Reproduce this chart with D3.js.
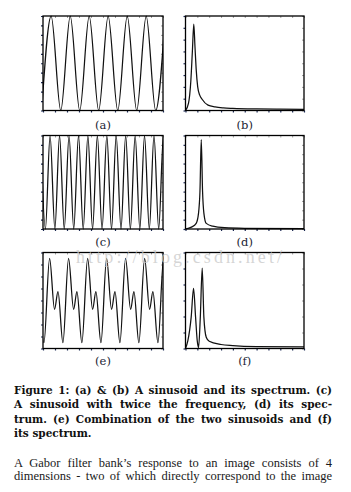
<!DOCTYPE html>
<html>
<head>
<meta charset="utf-8">
<script src="https://cdn.jsdelivr.net/npm/d3@7"></script>
<style>
  html, body { margin: 0; padding: 0; background: #fff; }
  svg { display: block; }
</style>
</head>
<body>
<div id="chart"></div>
<script>
// extrema (x in tick units 0..10)
const sineA = [[-0.11,-1],[0.68,1],[1.48,-1],[2.27,1],[3.06,-1],[3.85,1],[4.64,-1],[5.43,1],
  [6.23,-1],[7.02,1],[7.81,-1],[8.60,1],[9.39,-1],[10.18,1]]

const sineC = [[-0.19,1],[0.20,-1],[0.59,1],[0.99,-1],[1.38,1],[1.77,-1],[2.17,1],[2.56,-1],[2.96,1],
  [3.35,-1],[3.74,1],[4.13,-1],[4.53,1],[4.92,-1],[5.32,1],[5.71,-1],[6.10,1],[6.50,-1],[6.89,1],
  [7.28,-1],[7.68,1],[8.07,-1],[8.46,1],[8.86,-1],[9.25,1],[9.64,-1],[10.04,1],[10.43,-1]]

const sineE = [[-0.34,0.37],[0.08,-1.76],[0.55,1.76],[0.96,-0.37],[1.25,0.37],[1.66,-1.76],
  [2.13,1.76],[2.55,-0.37],[2.83,0.37],[3.24,-1.76],[3.72,1.76],[4.13,-0.37],[4.41,0.37],[4.83,-1.76],
  [5.30,1.76],[5.71,-0.37],[6.00,0.37],[6.41,-1.76],[6.88,1.76],[7.30,-0.37],[7.58,0.37],[7.99,-1.76],
  [8.47,1.76],[8.88,-0.37],[9.16,0.37],[9.58,-1.76],[10.05,1.76],[10.46,-0.37]]

const specB = [[0,0],[0.25,0.6],[0.45,2.5],[0.58,5.0],[0.7,7.32],[0.8,5.4],[0.9,3.5],[1.03,2.0],
  [1.2,1.3],[1.4,0.95],[1.9,0.45],[2.5,0.3],[3.2,0.22],[4,0.18],[6,0.13],[8,0.11],[10,0.1]]

const specD = [[0,0],[0.5,0.2],[0.9,0.6],[1.1,1.7],[1.22,4],[1.33,9.57],[1.44,4],[1.55,1.7],
  [1.75,0.6],[2.3,0.3],[3.3,0.14],[5,0.08],[10,0.05]]

const specF = [[0,0],[0.2,0.49],[0.48,1.96],[0.68,3.76],[0.85,1.96],[0.99,0.49],[1.1,0.06],
  [1.25,1.96],[1.41,5.03],[1.55,1.96],[1.75,0.7],[2.0,0.45],[3.0,0.25],[4.0,0.18],[6,0.12],[10,0.1]]

const panelLabels = ["(a)", "(b)", "(c)", "(d)", "(e)", "(f)"]

const captionLines = [
  "Figure 1: (a) & (b) A sinusoid and its spectrum. (c)",
  "A sinusoid with twice the frequency, (d) its spec-",
  "trum. (e) Combination of the two sinusoids and (f)",
  "its spectrum."
]
const bodyLines = [
  "A Gabor filter bank\u2019s response to an image consists of 4",
  "dimensions - two of which directly correspond to the image"
]

const width = 351
const height = 492

const svg = d3.select("#chart")
  .append("svg")
  .attr("width", width)
  .attr("height", height)

svg.append("rect").attr("width", width).attr("height", height).attr("fill", "#fff")

const cols = [[43, 163], [185.5, 304]]
const rows = [[16, 110.5], [135.5, 229], [252.5, 348.5]]

const panels = [
  { data: sineA, y: [-1, 1], yStep: 0.2, col: 0, row: 0 },
  { data: specB, y: [0, 8], yStep: 1, col: 1, row: 0 },
  { data: sineC, y: [-1, 1], yStep: 0.2, col: 0, row: 1 },
  { data: specD, y: [0, 10], yStep: 1, col: 1, row: 1 },
  { data: sineE, y: [-2, 2], yStep: 0.5, col: 0, row: 2 },
  { data: specF, y: [0, 6], yStep: 1, col: 1, row: 2 },
]

const labelBaselines = [129, 245.5, 364.5]

panels.forEach((p, i) => {
  const [x0, x1] = cols[p.col]
  const [y0, y1] = rows[p.row]

  const x = d3.scaleLinear().domain([0, 10]).range([x0, x1])
  const y = d3.scaleLinear().domain(p.y).range([y1, y0])

  const g = svg.append("g")

  const clipId = "clip" + i
  g.append("clipPath").attr("id", clipId)
    .append("rect")
    .attr("x", x0).attr("y", y0 - 1)
    .attr("width", x1 - x0).attr("height", y1 - y0 + 2)

  const xt = d3.range(0, 10.001, 1)
  const yt = d3.range(p.y[0], p.y[1] + 1e-6, p.yStep)

  // outer ticks left / bottom
  g.append("g")
    .attr("transform", `translate(${x0},0)`)
    .call(d3.axisLeft(y).tickValues(yt).tickSize(2).tickFormat(""))
    .call(a => a.select(".domain").remove())
    .call(a => a.selectAll("line").attr("stroke", "#1d2a55").attr("stroke-width", 1.2))

  g.append("g")
    .attr("transform", `translate(0,${y1})`)
    .call(d3.axisBottom(x).tickValues(xt).tickSize(2).tickFormat(""))
    .call(a => a.select(".domain").remove())
    .call(a => a.selectAll("line").attr("stroke", "#1d2a55").attr("stroke-width", 1.2))

  // faint inner ticks top / right
  g.append("g")
    .attr("transform", `translate(0,${y0})`)
    .call(d3.axisBottom(x).tickValues(xt).tickSize(2).tickFormat(""))
    .call(a => a.select(".domain").remove())
    .call(a => a.selectAll("line").attr("stroke", "#888").attr("stroke-width", 0.8))

  g.append("g")
    .attr("transform", `translate(${x1},0)`)
    .call(d3.axisLeft(y).tickValues(yt).tickSize(2).tickFormat(""))
    .call(a => a.select(".domain").remove())
    .call(a => a.selectAll("line").attr("stroke", "#888").attr("stroke-width", 0.8))

  const line = d3.line()
    .x(d => x(d[0]))
    .y(d => y(d[1]))
    .curve(d3.curveMonotoneX)

  g.append("path")
    .attr("clip-path", `url(#${clipId})`)
    .attr("d", line(p.data))
    .attr("fill", "none")
    .attr("stroke", "#111")
    .attr("stroke-width", 1.25)

  g.append("rect")
    .attr("x", x0).attr("y", y0)
    .attr("width", x1 - x0).attr("height", y1 - y0)
    .attr("fill", "none")
    .attr("stroke", "#000")
    .attr("stroke-width", 1.3)

  g.append("text")
    .attr("x", (x0 + x1) / 2)
    .attr("y", labelBaselines[p.row])
    .attr("text-anchor", "middle")
    .attr("font-family", "'DejaVu Serif', serif")
    .attr("font-size", 11.5)
    .attr("fill", "#1a1d33")
    .text(panelLabels[i])
})

// watermark
svg.append("text")
  .attr("x", 76)
  .attr("y", 263)
  .attr("font-family", "'Liberation Serif', serif")
  .attr("font-size", 18)
  .attr("fill", "#c8c8c8")
  .attr("fill-opacity", 0.75)
  .attr("textLength", 206)
  .attr("lengthAdjust", "spacing")
  .text("http://blog.csdn.net/")

// justified text lines
function writeLines(lines, { top, step, font, size, weight, fill, justifyLast }) {
  const left = 14, right = 332
  lines.forEach((s, i) => {
    const t = svg.append("text")
      .attr("x", left)
      .attr("y", top + i * step)
      .attr("font-family", font)
      .attr("font-size", size)
      .attr("font-weight", weight)
      .attr("fill", fill)
      .attr("xml:space", "preserve")
      .text(s)
    const last = i === lines.length - 1
    if (last && !justifyLast) return
    const w = t.node().getComputedTextLength()
    const gaps = s.split(" ").length - 1
    const extra = (right - left) - w
    if (extra > 0 && gaps > 0) t.attr("word-spacing", extra / gaps)
    else t.attr("textLength", right - left).attr("lengthAdjust", "spacingAndGlyphs")
  })
}

writeLines(captionLines, {
  top: 394, step: 14.3, font: "'DejaVu Serif', serif", size: 10.5,
  weight: "bold", fill: "#111", justifyLast: false
})

writeLines(bodyLines, {
  top: 467, step: 13.4, font: "'Liberation Serif', serif", size: 12.5,
  weight: "normal", fill: "#1a1a1a", justifyLast: true
})
</script>
</body>
</html>
